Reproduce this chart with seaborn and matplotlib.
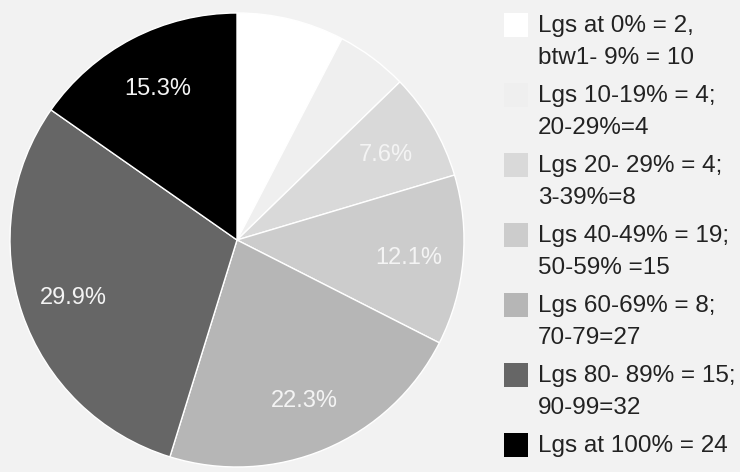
import matplotlib
matplotlib.use("Agg")
import matplotlib.pyplot as plt
import seaborn as sns
from matplotlib.patches import Rectangle

# slice values (number of leagues per bucket), clockwise from the top
categories = [
    "Lgs at 0% = 2,\nbtw1- 9% = 10",
    "Lgs 10-19% = 4;\n20-29%=4",
    "Lgs 20- 29% = 4;\n3-39%=8",
    "Lgs 40-49% = 19;\n50-59% =15",
    "Lgs 60-69% = 8;\n70-79=27",
    "Lgs 80- 89% = 15;\n90-99=32",
    "Lgs at 100% = 24",
]
counts = [12, 8, 12, 19, 35, 47, 24]
colors = ["#ffffff", "#efefef", "#d9d9d9", "#cccccc", "#b6b6b6", "#666666", "#000000"]

bg = "#f2f2f2"
sns.set_theme(style="white")
plt.rcParams["font.family"] = ["Liberation Sans", "DejaVu Sans"]

W, H = 740, 472
fig = plt.figure(figsize=(W / 100, H / 100), dpi=100, facecolor=bg)

# pie: centre (237, 240) px, radius 227 px
cx, cy, r = 237, 240, 227
ax = fig.add_axes([(cx - r) / W, (H - cy - r) / H, 2 * r / W, 2 * r / H])
ax.set_facecolor(bg)


def pct_label(p):
    return f"{p:.1f}%" if p >= 6 else ""


wedges, texts, autotexts = ax.pie(
    counts, colors=colors, startangle=90, counterclock=False,
    autopct=pct_label, pctdistance=0.76, radius=1,
    wedgeprops=dict(edgecolor="white", linewidth=1),
    textprops=dict(color="#f4f4f4", fontsize=17, va="center_baseline"),
)
autotexts[0].set_color("white")
ax.set_xlim(-1, 1)
ax.set_ylim(-1, 1)
ax.set_aspect("equal")
ax.axis("off")

# legend on the right, drawn by hand so the swatch sits on the first line
line_step = 32
for i, (lab, col) in enumerate(zip(categories, colors)):
    top = 13 + 70 * i
    fig.add_artist(Rectangle((504 / W, 1 - (top + 24) / H), 24 / W, 24 / H,
                             transform=fig.transFigure, facecolor=col,
                             edgecolor="none"))
    # baseline of the last line
    base = top + 19 + line_step * lab.count("\n")
    fig.text(538 / W, 1 - base / H, lab, fontsize=17.5, color="#222222",
             ha="left", va="baseline", linespacing=1.57)

fig.savefig("out.png", dpi=100, facecolor=bg)
